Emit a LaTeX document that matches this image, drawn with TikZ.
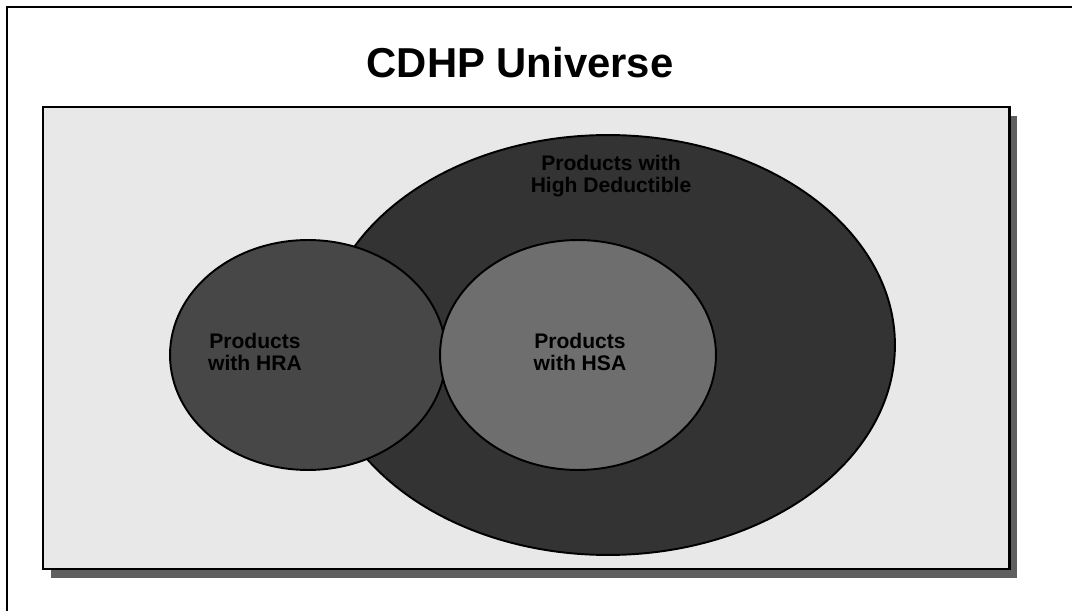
\documentclass[tikz,border=0pt]{standalone}
\usepackage{fontspec}
\setmainfont{Liberation Sans}
\usetikzlibrary{shapes.geometric,positioning}
\definecolor{panelgray}{HTML}{E8E8E8}
\definecolor{shadowgray}{HTML}{5F5F5F}
\definecolor{deductgray}{HTML}{333333}
\definecolor{hragray}{HTML}{474747}
\definecolor{hsagray}{HTML}{6E6E6E}
\tikzset{blob/.style={ellipse,draw=black,line width=1.1pt,inner sep=0pt},
         blobtext/.style={font=\bfseries\fontsize{12}{12.5}\selectfont,align=center,text=black}}

\begin{document}
\begin{tikzpicture}[x=0.02cm,y=-0.02cm]
\useasboundingbox (0,0) rectangle (1072,611);
\draw[line width=1.2pt] (7,611) -- (7,7) -- (1072,7);

\node[anchor=base,font=\bfseries\fontsize{23.8}{26}\selectfont] (title) at (520,78) {CDHP Universe};

% universe box
\fill[shadowgray] (51,116) rectangle (1017,578);
\filldraw[fill=panelgray,draw=black,line width=1.7pt] (43,107) rectangle (1009,569);

% sets
\node[blob,fill=deductgray,minimum width=11.48cm,minimum height=8.4cm] (deduct) at (608,345) {};
\node[blob,fill=hragray,minimum width=5.52cm,minimum height=4.6cm] (hra) at (308,355) {};
\node[blob,fill=hsagray,minimum width=5.52cm,minimum height=4.6cm] (hsa) at (578,355) {};

\node[blobtext] (deductlabel) at (611,176) {Products with\\High Deductible};
\node[blobtext] (hralabel) at (255,352) {Products\\with HRA};
\node[blobtext] (hsalabel) at (580,352) {Products\\with HSA};
\end{tikzpicture}
\end{document}
